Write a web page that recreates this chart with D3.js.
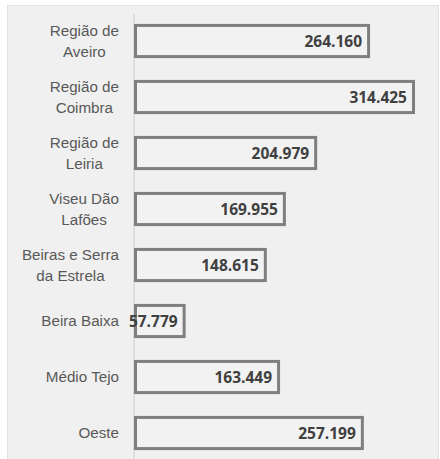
<!DOCTYPE html>
<html>
<head>
<meta charset="utf-8">
<script src="https://cdn.jsdelivr.net/npm/d3@7"></script>
<style>
  html, body { margin: 0; padding: 0; background: #fff; }
  #chart { width: 440px; height: 459px; }
</style>
</head>
<body>
<div id="chart"></div>
<script>
// dados
const regions = [
    ["Região de", "Aveiro"],
    ["Região de", "Coimbra"],
    ["Região de", "Leiria"],
    ["Viseu Dão", "Lafões"],
    ["Beiras e Serra", "da Estrela"],
    ["Beira Baixa"],
    ["Médio Tejo"],
    ["Oeste"]
];
const values = [264160, 314425, 204979, 169955, 148615, 57779, 163449, 257199];
const valueLabels = ["264.160", "314.425", "204.979", "169.955", "148.615", "57.779", "163.449", "257.199"];

const width = 440, height = 459;
const margin = { top: 13, right: 0, bottom: -2, left: 134 };

const svg = d3.select('#chart').append('svg')
    .attr('width', width)
    .attr('height', height);

// fundo do gráfico
svg.append('rect')
    .attr('x', 7.5).attr('y', 5.5)
    .attr('width', 431).attr('height', 460)
    .attr('fill', '#f0f0f0')
    .attr('stroke', '#e2e2e2')
    .attr('stroke-width', 1);

const keys = regions.map(d => d.join(' '));

const y = d3.scaleBand()
    .domain(keys)
    .range([margin.top, height - margin.bottom])
    .paddingInner(0.39)
    .paddingOuter(0.195);

const x = d3.scaleLinear()
    .domain([0, 314425])
    .range([margin.left, margin.left + 281]);

// eixo vertical
svg.append('line')
    .attr('x1', x(0)).attr('x2', x(0))
    .attr('y1', 14).attr('y2', height)
    .attr('stroke', '#d9d9d9')
    .attr('stroke-width', 1.5);

// barras
svg.append('g').selectAll('rect')
    .data(values)
    .join('rect')
    .attr('x', x(0) + 1.5)
    .attr('y', (d, i) => y(keys[i]) + 1.5)
    .attr('width', d => x(d) - x(0) - 3)
    .attr('height', y.bandwidth() - 3)
    .attr('fill', '#f2f2f2')
    .attr('stroke', '#7f7f7f')
    .attr('stroke-width', 3);

// rótulos de valor
svg.append('g').selectAll('text')
    .data(values)
    .join('text')
    .attr('x', d => x(d) - 8)
    .attr('y', (d, i) => y(keys[i]) + y.bandwidth() / 2)
    .attr('dy', '0.36em')
    .attr('text-anchor', 'end')
    .style('font-family', '"Open Sans", sans-serif')
    .style('font-weight', 'bold')
    .style('font-size', '15.5px')
    .attr('fill', '#404040')
    .text((d, i) => valueLabels[i]);

// rótulos das categorias
const lineH = 20.5;
const cats = svg.append('g');
regions.forEach((lines, i) => {
    const cy = y(keys[i]) + y.bandwidth() / 2;
    const t = cats.append('text')
        .attr('text-anchor', 'middle')
        .style('font-family', '"Liberation Sans", Arial, sans-serif')
        .style('font-size', '15.2px')
        .attr('fill', '#595959');
    lines.forEach((s, j) => {
        t.append('tspan')
            .attr('y', cy + (j - (lines.length - 1) / 2) * lineH)
            .attr('dy', '0.35em')
            .text(s);
    });
    let maxW = 0;
    t.selectAll('tspan').each(function () {
        maxW = Math.max(maxW, this.getComputedTextLength());
    });
    t.selectAll('tspan').attr('x', 119 - maxW / 2);
});
</script>
</body>
</html>
